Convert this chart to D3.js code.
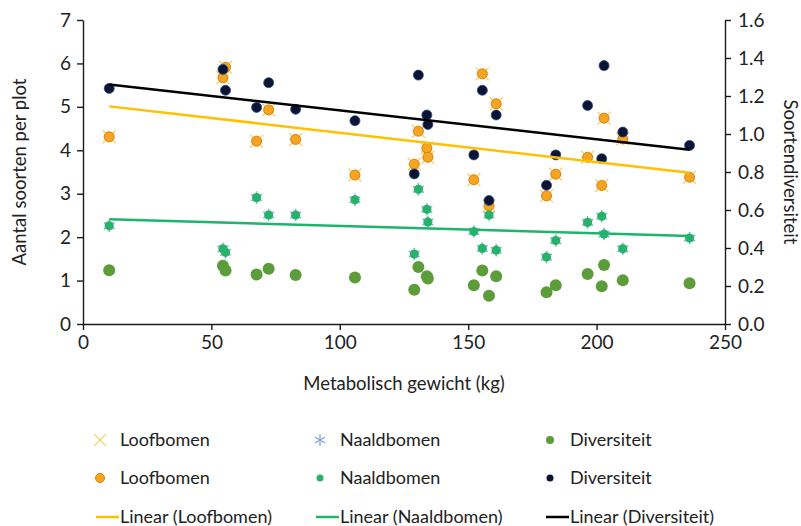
<!DOCTYPE html>
<html>
<head>
<meta charset="utf-8">
<script src="https://cdn.jsdelivr.net/npm/d3@7"></script>
<style>
  html, body { margin: 0; padding: 0; background: #fff; }
  svg { display: block; }
  .axis text { font-family: Lato, "Open Sans", sans-serif; font-size: 19px; fill: #222; }
  .axis path, .axis line { stroke: #1a1a1a; stroke-width: 1.4; }
  .title { font-family: Lato, "Open Sans", sans-serif; font-size: 18.5px; fill: #222; }
  .legend text { font-family: Lato, "Open Sans", sans-serif; font-size: 18px; fill: #222; }
</style>
</head>
<body>
<svg id="chart" width="801" height="526"></svg>
<script>
// metabolisch gewicht per plot (kg)
var gewicht = [10.2, 54.5, 55.5, 67.6, 72.3, 82.8, 105.9, 129.0, 130.6, 133.9, 134.3,
               152.2, 155.5, 158.1, 160.9, 180.5, 184.1, 196.5, 202.0, 202.9, 210.2, 236.2];
// aantal soorten per plot
var loofbomen = [4.31, 5.67, 5.91, 4.21, 4.93, 4.25, 3.43, 3.68, 4.44, 4.05, 3.84,
                 3.32, 5.76, 2.72, 5.07, 2.95, 3.45, 3.84, 3.19, 4.74, 4.26, 3.38];
var naaldbomen = [2.26, 1.73, 1.65, 2.91, 2.51, 2.51, 2.86, 1.61, 3.10, 2.64, 2.35,
                  2.13, 1.74, 2.51, 1.70, 1.54, 1.92, 2.34, 2.48, 2.07, 1.73, 1.98];
// soortendiversiteit
var diversiteit = [1.24, 1.34, 1.23, 1.14, 1.27, 1.13, 1.07, 0.79, 1.31, 1.10, 1.05,
                   0.89, 1.23, 0.65, 1.10, 0.73, 0.89, 1.15, 0.87, 1.36, 1.01, 0.94];

var xTicks = [0, 50, 100, 150, 200, 250];
var yLeftTicks = [0, 1, 2, 3, 4, 5, 6, 7];
var yRightTicks = [0, 0.2, 0.4, 0.6, 0.8, 1.0, 1.2, 1.4, 1.6];

var margin = {left: 83, right: 76, top: 20, bottom: 202};
var width = 801, height = 526;

var svg = d3.select('#chart');

var x = d3.scaleLinear().domain([0, 250]).range([margin.left, width - margin.right]);
var yL = d3.scaleLinear().domain([0, 7]).range([height - margin.bottom, margin.top]);
var yR = d3.scaleLinear().domain([0, 1.6]).range([height - margin.bottom, margin.top]);

// least squares, as the spreadsheet trendline does
function linear(xs, ys) {
    var n = xs.length, mx = d3.mean(xs), my = d3.mean(ys);
    var sxy = 0, sxx = 0;
    for (var i = 0; i < n; i++) {
        sxy += (xs[i] - mx) * (ys[i] - my);
        sxx += (xs[i] - mx) * (xs[i] - mx);
    }
    var b = sxy / sxx;
    return function (v) { return my + b * (v - mx); };
}

var cols = {
    loofX: '#efd977', loof: '#f5a51f', loofEdge: '#e07c10', loofLine: '#ffc000',
    naaldX: '#8db3d8', naald: '#27b26a', naaldLine: '#1db46c',
    divL: '#5d9c3b', divR: '#0b1533', divREdge: '#2a4a8c', divLine: '#000'
};

// axes
svg.append('g').attr('class', 'axis')
    .attr('transform', 'translate(0,' + yL(0) + ')')
    .call(d3.axisBottom(x).tickValues(xTicks).tickSize(6).tickSizeOuter(0).tickPadding(6));

svg.append('g').attr('class', 'axis')
    .attr('transform', 'translate(' + x(0) + ',0)')
    .call(d3.axisLeft(yL).tickValues(yLeftTicks).tickFormat(d3.format('d'))
        .tickSize(6).tickSizeOuter(0).tickPadding(6));

svg.append('g').attr('class', 'axis')
    .attr('transform', 'translate(' + x(250) + ',0)')
    .call(d3.axisRight(yR).tickValues(yRightTicks).tickFormat(d3.format('.1f'))
        .tickSize(6).tickSizeOuter(0).tickPadding(7));

svg.append('text').attr('class', 'title')
    .attr('transform', 'translate(26,' + yL(3.5) + ') rotate(-90)')
    .attr('text-anchor', 'middle')
    .text('Aantal soorten per plot');

svg.append('text').attr('class', 'title')
    .attr('transform', 'translate(784,' + yL(3.5) + ') rotate(90)')
    .attr('text-anchor', 'middle')
    .text('Soortendiversiteit');

svg.append('text').attr('class', 'title')
    .attr('x', (x(0) + x(250)) / 2).attr('y', 390)
    .attr('text-anchor', 'middle')
    .text('Metabolisch gewicht (kg)');

// points
var idx = d3.range(gewicht.length);
var marks = svg.append('g');

var xSym = d3.symbol().type(d3.symbolX).size(110);
var aSym = d3.symbol().type(d3.symbolAsterisk).size(110);

marks.selectAll('path.loofX').data(idx).enter().append('path')
    .attr('d', xSym)
    .attr('transform', function (i) { return 'translate(' + x(gewicht[i]) + ',' + yL(loofbomen[i]) + ')'; })
    .attr('fill', 'none').attr('stroke', cols.loofX).attr('stroke-width', 1.5);

marks.selectAll('path.naaldX').data(idx).enter().append('path')
    .attr('d', aSym)
    .attr('transform', function (i) { return 'translate(' + x(gewicht[i]) + ',' + yL(naaldbomen[i]) + ')'; })
    .attr('fill', 'none').attr('stroke', cols.naaldX).attr('stroke-width', 1.5);

marks.selectAll('circle.divL').data(idx).enter().append('circle')
    .attr('cx', function (i) { return x(gewicht[i]); })
    .attr('cy', function (i) { return yL(diversiteit[i]); })
    .attr('r', 6).attr('fill', cols.divL);

marks.selectAll('circle.loof').data(idx).enter().append('circle')
    .attr('cx', function (i) { return x(gewicht[i]); })
    .attr('cy', function (i) { return yL(loofbomen[i]); })
    .attr('r', 5).attr('fill', cols.loof).attr('stroke', cols.loofEdge).attr('stroke-width', 1);

marks.selectAll('circle.naald').data(idx).enter().append('circle')
    .attr('cx', function (i) { return x(gewicht[i]); })
    .attr('cy', function (i) { return yL(naaldbomen[i]); })
    .attr('r', 4.6).attr('fill', cols.naald);

marks.selectAll('circle.divR').data(idx).enter().append('circle')
    .attr('cx', function (i) { return x(gewicht[i]); })
    .attr('cy', function (i) { return yR(diversiteit[i]); })
    .attr('r', 5).attr('fill', cols.divR).attr('stroke', cols.divREdge).attr('stroke-width', 0.8);

// trendlines
var x0 = d3.min(gewicht), x1 = d3.max(gewicht);
var trends = [
    {f: linear(gewicht, loofbomen), y: yL, c: cols.loofLine},
    {f: linear(gewicht, naaldbomen), y: yL, c: cols.naaldLine},
    {f: linear(gewicht, diversiteit), y: yR, c: cols.divLine}
];
svg.append('g').selectAll('line').data(trends).enter().append('line')
    .attr('x1', x(x0)).attr('x2', x(x1))
    .attr('y1', function (t) { return t.y(t.f(x0)); })
    .attr('y2', function (t) { return t.y(t.f(x1)); })
    .attr('stroke', function (t) { return t.c; })
    .attr('stroke-width', 2.5);

// legend: text start of each column
var legendCols = [120, 340, 570];
var legendRows = [440, 478, 517];
var lg = svg.append('g').attr('class', 'legend');

function legendText(tx, cy, label) {
    lg.append('text').attr('x', tx).attr('y', cy).attr('dy', '0.35em').text(label);
}

lg.append('path').attr('d', d3.symbol().type(d3.symbolX).size(90)())
    .attr('transform', 'translate(' + (legendCols[0] - 20) + ',' + legendRows[0] + ')')
    .attr('fill', 'none').attr('stroke', cols.loofX).attr('stroke-width', 1.5);
legendText(legendCols[0], legendRows[0], 'Loofbomen');

lg.append('path').attr('d', d3.symbol().type(d3.symbolAsterisk).size(90)())
    .attr('transform', 'translate(' + (legendCols[1] - 20) + ',' + legendRows[0] + ')')
    .attr('fill', 'none').attr('stroke', cols.naaldX).attr('stroke-width', 1.5);
legendText(legendCols[1], legendRows[0], 'Naaldbomen');

lg.append('circle').attr('cx', legendCols[2] - 20).attr('cy', legendRows[0]).attr('r', 4)
    .attr('fill', cols.divL);
legendText(legendCols[2], legendRows[0], 'Diversiteit');

lg.append('circle').attr('cx', legendCols[0] - 20).attr('cy', legendRows[1]).attr('r', 4.5)
    .attr('fill', cols.loof).attr('stroke', cols.loofEdge);
legendText(legendCols[0], legendRows[1], 'Loofbomen');

lg.append('circle').attr('cx', legendCols[1] - 20).attr('cy', legendRows[1]).attr('r', 3.5)
    .attr('fill', cols.naald);
legendText(legendCols[1], legendRows[1], 'Naaldbomen');

lg.append('circle').attr('cx', legendCols[2] - 20).attr('cy', legendRows[1]).attr('r', 3.5)
    .attr('fill', cols.divR);
legendText(legendCols[2], legendRows[1], 'Diversiteit');

var lineLabels = ['Linear (Loofbomen)', 'Linear (Naaldbomen)', 'Linear (Diversiteit)'];
trends.forEach(function (t, k) {
    var tx = legendCols[k];
    lg.append('line').attr('x1', tx - 24).attr('x2', tx - 1)
        .attr('y1', legendRows[2]).attr('y2', legendRows[2])
        .attr('stroke', t.c).attr('stroke-width', 2.5);
    legendText(tx, legendRows[2], lineLabels[k]);
});
</script>
</body>
</html>
